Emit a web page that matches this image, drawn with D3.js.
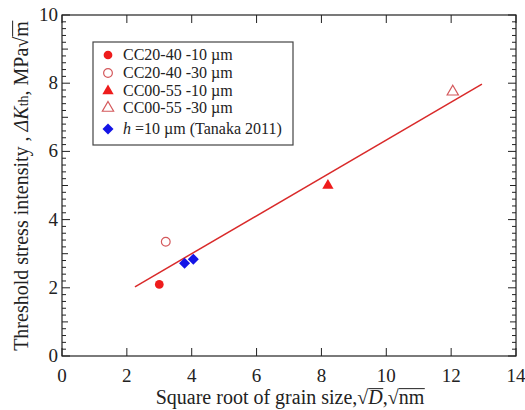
<!DOCTYPE html>
<html><head><meta charset="utf-8">
<script src="https://cdn.jsdelivr.net/npm/d3@7"></script>
<style>body{margin:0;background:#fff}svg{display:block}svg text{font-family:'Liberation Serif','Times New Roman','DejaVu Serif',serif}</style>
</head><body>
<script>
const xTicks = [0,2,4,6,8,10,12,14];
const yTicks = [0,2,4,6,8,10];
const seriesNames = ["CC20-40 -10 µm","CC20-40 -30 µm","CC00-55 -10 µm","CC00-55 -30 µm","h =10 µm (Tanaka 2011)"];
const seriesX = [[3.0],[3.2],[8.2],[12.05],[3.78,4.05]];
const seriesY = [[2.1],[3.35],[5.0],[7.75],[2.72,2.84]];
const fitX = [2.25, 12.95];
const fitY = [2.03, 7.97];

const W=525,H=410;
const FONT="Liberation Serif";
const svg=d3.select("body").append("svg").attr("width",W).attr("height",H);
const x=d3.scaleLinear().domain([0,14]).range([62,516]);
const y=d3.scaleLinear().domain([0,10]).range([356,15]);
const RED="#ee1c1c", OPEN="#d4595c", BLUE="#1414e6", LINE="#d92a2a";
function txt(g){return g.append("text").attr("font-family",FONT).attr("fill","#222");}

svg.append("rect").attr("x",62).attr("y",15).attr("width",454).attr("height",341)
  .attr("fill","none").attr("stroke","#222").attr("stroke-width",1.2);

d3.range(0,10.001,0.2).forEach(v=>{
  const r=Math.round(v*5);
  const len = (r%10===0)?8:(r%5===0?6:4);
  svg.append("line").attr("x1",62).attr("x2",62+len).attr("y1",y(v)).attr("y2",y(v)).attr("stroke","#222").attr("stroke-width",1);
  svg.append("line").attr("x1",516).attr("x2",516-len).attr("y1",y(v)).attr("y2",y(v)).attr("stroke","#222").attr("stroke-width",1);
});
xTicks.forEach(v=>{
  svg.append("line").attr("x1",x(v)).attr("x2",x(v)).attr("y1",356).attr("y2",348).attr("stroke","#222");
  svg.append("line").attr("x1",x(v)).attr("x2",x(v)).attr("y1",15).attr("y2",23).attr("stroke","#222");
  txt(svg).attr("x",x(v)).attr("y",382).attr("text-anchor","middle").attr("font-size",19).text(v);
});
yTicks.forEach(v=>{
  txt(svg).attr("x",58).attr("y",y(v)+6).attr("text-anchor","end").attr("font-size",19).text(v);
});

function overline(g,textNode,i0,i1,fs){
  const a=textNode.getExtentOfChar(i0), b=textNode.getExtentOfChar(i1);
  const yy=a.y+a.height*0.12;
  g.append("line").attr("x1",a.x).attr("x2",b.x+b.width+0.5).attr("y1",yy).attr("y2",yy)
   .attr("stroke","#222").attr("stroke-width",1);
}

// x title
const xg=svg.append("g");
const xt=txt(xg).attr("x",290).attr("y",404).attr("text-anchor","middle").attr("font-size",20);
const s1="Square root of grain size,√";
xt.append("tspan").text(s1);
xt.append("tspan").attr("font-style","italic").text("D");
xt.append("tspan").text(",√");
xt.append("tspan").text("nm");
overline(xg,xt.node(),s1.length,s1.length,20);
overline(xg,xt.node(),s1.length+3,s1.length+4,20);

// y title
const yg=svg.append("g").attr("transform","translate(28,186) rotate(-90)");
const yt=txt(yg).attr("x",0).attr("y",0).attr("text-anchor","middle").attr("font-size",20);
const p1="Threshold stress intensity , ";
yt.append("tspan").text(p1);
yt.append("tspan").attr("font-style","italic").text("ΔK");
yt.append("tspan").attr("font-size",14).text("th");
yt.append("tspan").text(", MPa√");
yt.append("tspan").text("m");
const mIdx=p1.length+2+2+6;
overline(yg,yt.node(),mIdx,mIdx,20);

svg.append("line").attr("x1",x(fitX[0])).attr("y1",y(fitY[0])).attr("x2",x(fitX[1])).attr("y2",y(fitY[1]))
  .attr("stroke",LINE).attr("stroke-width",1.5);

const styles=[
  {d:d3.symbol().type(d3.symbolCircle).size(60)(),fill:RED,stroke:"none"},
  {d:d3.symbol().type(d3.symbolCircle).size(60)(),fill:"none",stroke:OPEN},
  {d:d3.symbol().type(d3.symbolTriangle).size(55)(),fill:RED,stroke:"none"},
  {d:d3.symbol().type(d3.symbolTriangle).size(55)(),fill:"none",stroke:OPEN},
  {d:"M0,-5.5L5.5,0L0,5.5L-5.5,0Z",fill:BLUE,stroke:"none"}
];
function mark(g,s,cx,cy){
  g.append("path").attr("d",s.d)
   .attr("transform",`translate(${cx},${cy})`).attr("fill",s.fill).attr("stroke",s.stroke).attr("stroke-width",1.2);
}
seriesX.forEach((xs,i)=>xs.forEach((xv,j)=>mark(svg,styles[i],x(xv),y(seriesY[i][j]))));

svg.append("rect").attr("x",93).attr("y",42).attr("width",200).attr("height",103)
  .attr("fill","#fff").attr("stroke","#444").attr("stroke-width",1.2);
const ly=[55,73,91,108,129];
seriesNames.forEach((n,i)=>{
  mark(svg,styles[i],108,ly[i]);
  const t=txt(svg).attr("x",123).attr("y",ly[i]+5).attr("font-size",16);
  if(i===4){
    t.append("tspan").attr("font-style","italic").text("h");
    t.append("tspan").text(" =10 µm (Tanaka 2011)");
  } else t.text(n);
});
</script>
</body></html>
